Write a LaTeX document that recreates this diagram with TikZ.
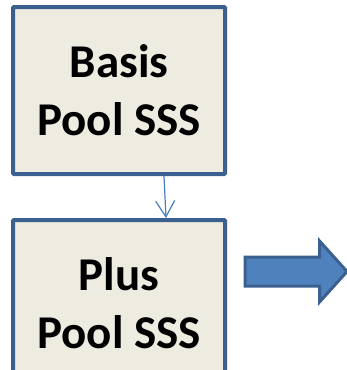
\documentclass[tikz,border=0pt]{standalone}
\usepackage{fontspec}
\setmainfont{Carlito}
\usepackage{tikz}
\usetikzlibrary{arrows.meta}
\usetikzlibrary{positioning, shapes.arrows}

\definecolor{poolfill}{HTML}{EEECE1}
\definecolor{pooldraw}{HTML}{3B5F8E}
\definecolor{goblue}{HTML}{4F81BD}
\definecolor{linkblue}{HTML}{4A7EBB}

\begin{document}
\begin{tikzpicture}[>={Straight Barb[length=16pt,width=19pt]},node distance=42pt,
                pool node/.style={rectangle,draw=pooldraw,fill=poolfill,line width=4pt,
                    rounded corners=1pt,minimum width=212pt,minimum height=167pt,
                    align=center,font=\fontsize{47}{58}\selectfont\bfseries},
                go arrow/.style={single arrow,draw=pooldraw,fill=goblue,line width=3pt,
                    minimum height=102pt,inner xsep=0pt,inner ysep=13pt,
                    single arrow head extend=16pt,single arrow tip angle=96}]

        \useasboundingbox (0,0) rectangle (347pt,-370pt);
        \clip (0,0) rectangle (347pt,-370pt);

        \node[pool node] (basis) at (119pt,-90.5pt) {Basis\\Pool SSS};
        \node[pool node] (plus) [below=of basis] {Plus\\Pool SSS};
        \node[go arrow] (go) [right=16.5pt of plus.east, yshift=32pt] {};

          \path
            ([xshift=45pt]basis.south) edge [->,draw=linkblue,line width=1.2pt]
                ([xshift=47pt]plus.north);
\end{tikzpicture}
\end{document}
